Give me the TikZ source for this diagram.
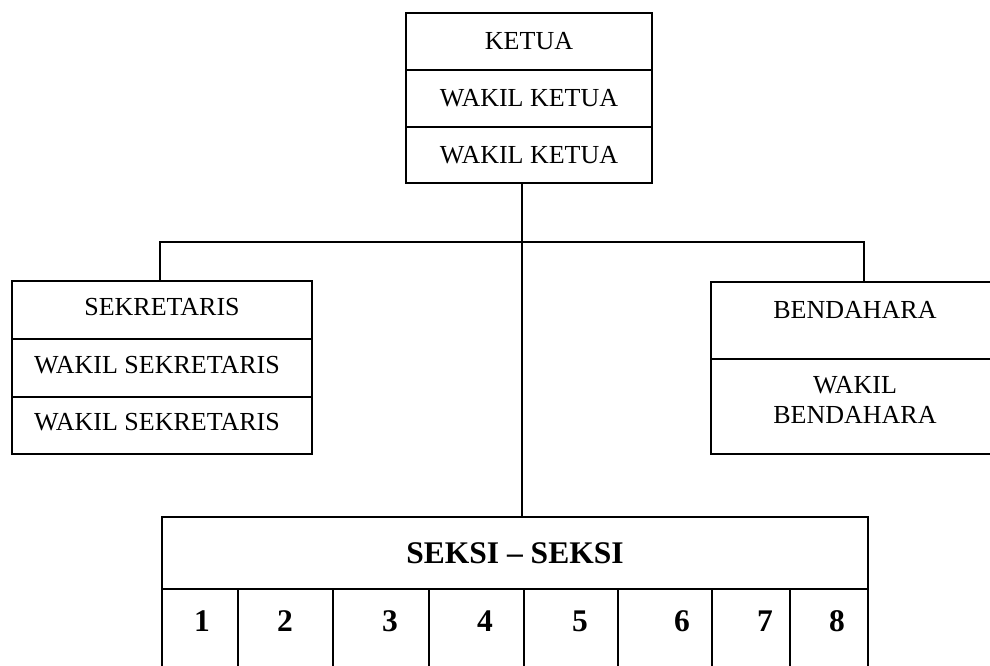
\documentclass[tikz,border=0pt]{standalone}
\usepackage{fontspec}
\setmainfont{Liberation Serif}
\begin{document}
\begin{tikzpicture}[x=1pt, y=-1pt,
  cell/.style={draw, line width=1.5pt, rectangle, inner sep=0pt, anchor=center,
    font=\fontsize{26}{30}\selectfont, align=center},
  txt/.style={inner sep=0pt, font=\fontsize{26}{30}\selectfont, align=center},
  num/.style={inner sep=0pt, font=\fontsize{31.5}{34}\selectfont\bfseries},
  link/.style={line width=1.5pt}]
\path[use as bounding box, clip] (0,0) rectangle (990,665);

% chairman block
\node[cell, minimum width=246pt, minimum height=57pt] (ketua)  at (529,41.5) {KETUA};
\node[cell, minimum width=246pt, minimum height=57pt] (wketua1) at (529,98.5) {WAKIL KETUA};
\node[cell, minimum width=246pt, minimum height=56pt] (wketua2) at (529,155) {WAKIL KETUA};

% secretary block
\node[cell, minimum width=300pt, minimum height=58pt] (sek)  at (162,310) {};
\node[txt] (sekT) at (162,307) {SEKRETARIS};
\node[cell, minimum width=300pt, minimum height=58pt] (wsek1) at (162,368) {};
\node[txt] (wsek1T) at (157,365) {WAKIL SEKRETARIS};
\node[cell, minimum width=300pt, minimum height=57pt] (wsek2) at (162,425.5) {};
\node[txt] (wsek2T) at (157,422) {WAKIL SEKRETARIS};

% treasurer block
\node[cell, minimum width=288pt, minimum height=77pt] (bend) at (855,320.5) {};
\node[txt] (bendT) at (855,310) {BENDAHARA};
\node[cell, minimum width=288pt, minimum height=95pt] (wbend) at (855,406.5) {};
\node[txt] (wbendT) at (855,400) {WAKIL\\BENDAHARA};

% sections block
\node[cell, minimum width=706pt, minimum height=72pt] (seksi) at (515,553) {};
\node[num] (seksiT) at (515,553) {SEKSI -- SEKSI};
\foreach \i/\a/\b/\t in {1/162/238/202, 2/238/333/285, 3/333/429/390, 4/429/524/485,
                        5/524/618/580, 6/618/712/682, 7/712/790/765, 8/790/868/837} {
  \node[cell, minimum width=\b-\a, minimum height=130pt] (col\i) at ({(\a+\b)/2},654) {};
  \node[num] (n\i) at (\t,621) {\i};
}

% connectors
\coordinate (jl) at (160,242);
\coordinate (jc) at (522,242);
\coordinate (jr) at (864,242);
\draw[link] (jl |- sek.north) -- (jl) -- (jr) -- (jr |- bend.north);
\draw[link] (jc |- wketua2.south) -- (jc |- seksi.north);
\end{tikzpicture}
\end{document}
